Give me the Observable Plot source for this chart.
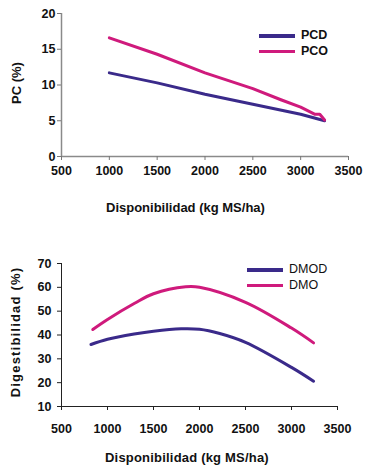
<!DOCTYPE html>
<html><head><meta charset="utf-8">
<script src="https://cdn.jsdelivr.net/npm/d3@7"></script>
<script src="https://cdn.jsdelivr.net/npm/@observablehq/plot@0.6"></script>
<style>
body{margin:0;background:#fff;font-family:"Liberation Sans",Arial,sans-serif;}
#wrap{position:relative;width:368px;height:469px;overflow:hidden;background:#fff}
.p{position:absolute;left:0}
.lab{position:absolute;font-weight:bold;font-size:13px;color:#111;white-space:nowrap}
.leg{position:absolute;font-size:12.5px;color:#111;white-space:nowrap;line-height:16px}
.sw{display:inline-block;width:36px;height:3px;vertical-align:middle;margin-right:6px}
</style></head><body><div id="wrap"></div>
<script>
// Top chart: PC (%)
const pcdX = [1000, 1500, 2000, 2500, 3000, 3250];
const pcdY = [11.7, 10.3, 8.7, 7.3, 5.9, 5.0];
const pcoX = [1000, 1500, 2000, 2500, 2800, 3000, 3150, 3200, 3250];
const pcoY = [16.6, 14.3, 11.7, 9.5, 7.9, 6.9, 5.9, 5.9, 5.1];
const topXTicks = [500, 1000, 1500, 2000, 2500, 3000, 3500];
const topYTicks = [0, 5, 10, 15, 20];

// Bottom chart: Digestibilidad (%)
const dmodX = [820, 1000, 1290, 1500, 1800, 2000, 2220, 2500, 3000, 3240];
const dmodY = [36.0, 38.2, 40.4, 41.6, 42.6, 42.4, 40.6, 36.9, 26.4, 20.6];
const dmoX = [840, 1000, 1290, 1500, 1850, 2000, 2500, 3000, 3240];
const dmoY = [42.3, 46.5, 53.2, 57.3, 60.2, 60.0, 53.7, 42.9, 36.7];
const botXTicks = [500, 1000, 1500, 2000, 2500, 3000, 3500];
const botYTicks = [10, 20, 30, 40, 50, 60, 70];

const BLUE = "#3a2a8a";
const MAG = "#cf1a7c";

const rows = (xs, ys, s) => xs.map((x, i) => ({x, y: ys[i], s}));
const topData = [...rows(pcdX, pcdY, "PCD"), ...rows(pcoX, pcoY, "PCO")];
const botData = [...rows(dmodX, dmodY, "DMOD"), ...rows(dmoX, dmoY, "DMO")];

const baseStyle = {fontFamily: "'Liberation Sans', Arial, sans-serif", fontSize: "12.5px", fontWeight: "bold", color: "#111", background: "transparent"};

const topChart = Plot.plot({
  width: 368, height: 220,
  marginLeft: 61, marginRight: 20, marginTop: 13, marginBottom: 64,
  style: baseStyle,
  x: {domain: [500, 3500]},
  y: {domain: [0, 20]},
  color: {domain: ["PCD", "PCO"], range: [BLUE, MAG]},
  marks: [
    Plot.ruleX([500], {stroke: "#8a8a8a", strokeWidth: 1.5}),
    Plot.ruleY([0], {stroke: "#8a8a8a", strokeWidth: 1.5}),
    Plot.axisX({ticks: topXTicks, tickSize: 4, tickPadding: 6, stroke: "#777", label: null, tickFormat: d => String(d)}),
    Plot.axisY({ticks: topYTicks, tickSize: 4, tickPadding: 2, stroke: "#777", label: null}),
    Plot.line(topData, {x: "x", y: "y", z: "s", stroke: "s", strokeWidth: 3})
  ]
});
topChart.classList.add("p"); topChart.style.top = "0px";

const botChart = Plot.plot({
  width: 368, height: 229,
  marginLeft: 61, marginRight: 31, marginTop: 23, marginBottom: 63,
  style: baseStyle,
  x: {domain: [500, 3500]},
  y: {domain: [10, 70]},
  color: {domain: ["DMOD", "DMO"], range: [BLUE, MAG]},
  marks: [
    Plot.ruleX([500], {stroke: "#222", strokeWidth: 1}),
    Plot.ruleY([10], {stroke: "#222", strokeWidth: 1}),
    Plot.axisX({ticks: botXTicks, tickSize: 4, tickPadding: 14, stroke: "#222", label: null, tickFormat: d => String(d)}),
    Plot.axisY({ticks: botYTicks, tickSize: 4, tickPadding: 6, stroke: "#222", label: null}),
    Plot.line(botData, {x: "x", y: "y", z: "s", stroke: "s", strokeWidth: 3, curve: "catmull-rom"})
  ]
});
botChart.classList.add("p"); botChart.style.top = "240px";

const wrap = document.getElementById("wrap");
wrap.append(topChart, botChart);

function addLabel(text, css) {
  const d = document.createElement("div");
  d.className = "lab"; d.textContent = text;
  Object.assign(d.style, css);
  wrap.append(d);
  return d;
}
// axis titles
addLabel("Disponibilidad (kg MS/ha)", {left: "106px", top: "200px"});
addLabel("Disponibilidad (kg MS/ha)", {left: "105px", top: "450px", letterSpacing: "0.2px"});
addLabel("PC (%)", {left: "16px", top: "83px", transform: "translate(-50%,-50%) rotate(-90deg)"});
addLabel("Digestibilidad (%)", {left: "15px", top: "332px", letterSpacing: "1.2px", transform: "translate(-50%,-50%) rotate(-90deg)"});

// legends
function addLegend(items, colors, left, topPx, bold) {
  const d = document.createElement("div");
  d.className = "leg";
  d.style.left = left + "px"; d.style.top = topPx + "px";
  d.style.fontWeight = bold ? "bold" : "normal";
  items.forEach((t, i) => {
    const r = document.createElement("div");
    const s = document.createElement("span");
    s.className = "sw"; s.style.background = colors[i];
    s.style.height = i === 0 ? "4px" : "3px";
    r.append(s, document.createTextNode(t));
    d.append(r);
  });
  wrap.append(d);
}
addLegend(["PCD", "PCO"], [BLUE, MAG], 259, 27, true);
addLegend(["DMOD", "DMO"], [BLUE, MAG], 247, 261, false);
</script></body></html>
